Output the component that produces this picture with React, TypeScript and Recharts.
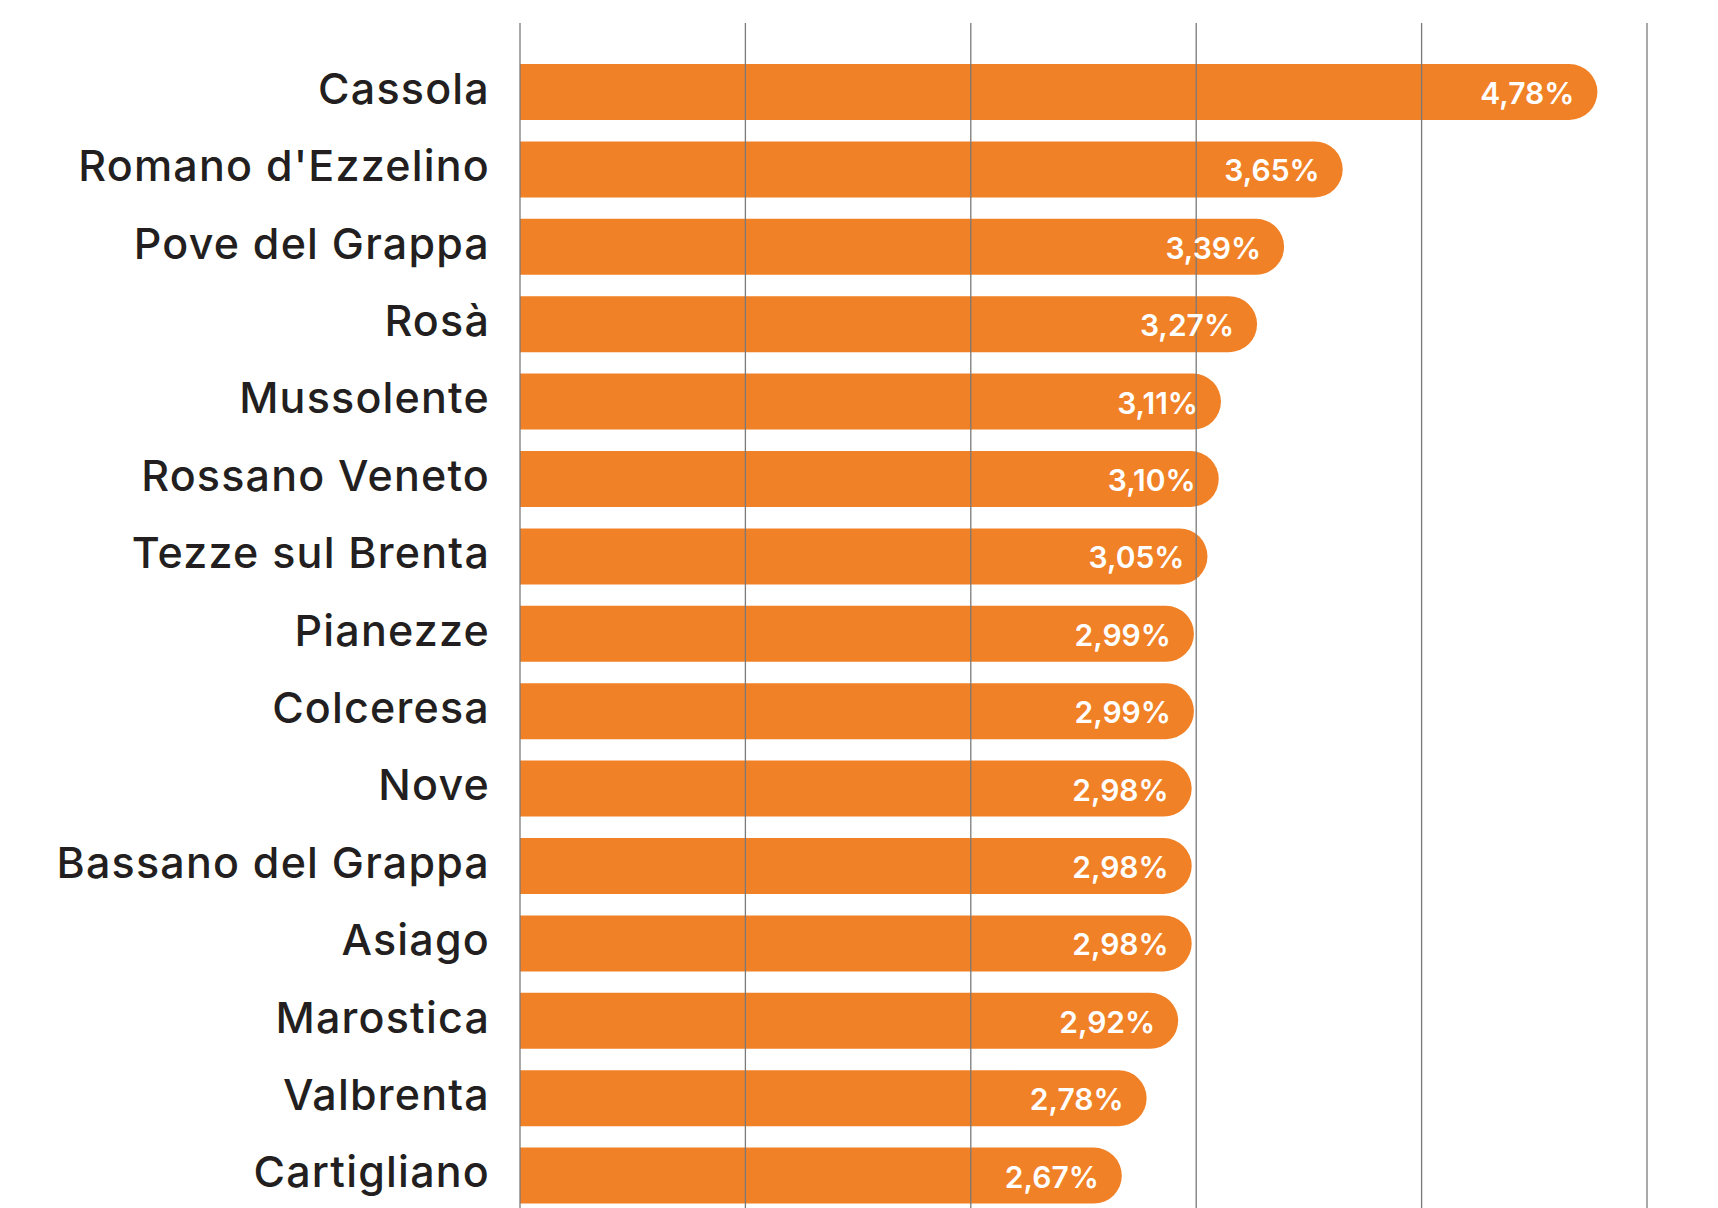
import React from 'react'
import { BarChart, Bar, XAxis, YAxis, ReferenceLine, LabelList } from 'recharts'

// Municipalities, top to bottom
const comuni = [
  'Cassola',
  "Romano d'Ezzelino",
  'Pove del Grappa',
  'Rosà',
  'Mussolente',
  'Rossano Veneto',
  'Tezze sul Brenta',
  'Pianezze',
  'Colceresa',
  'Nove',
  'Bassano del Grappa',
  'Asiago',
  'Marostica',
  'Valbrenta',
  'Cartigliano',
]

const percentuali = [4.78, 3.65, 3.39, 3.27, 3.11, 3.1, 3.05, 2.99, 2.99, 2.98, 2.98, 2.98, 2.92, 2.78, 2.67]

const gridTicks = [0, 1, 2, 3, 4, 5]

const ORANGE = '#F18126'
const TEXT = '#231F20'
const GRID = '#7A7A7A'
const FONT = 'Inter, "Open Sans", sans-serif'

const data = comuni.map((name, i) => ({ name, value: percentuali[i] }))

function fmt(v: number): string {
  return v.toFixed(2).replace('.', ',') + '%'
}

function NameTick(props: any) {
  const { x, y, payload } = props
  return (
    <text
      x={x}
      y={y}
      dy={-4}
      textAnchor="end"
      dominantBaseline="central"
      fill={TEXT}
      fontSize={43}
      fontWeight={500}
      letterSpacing={1.2}
      fontFamily={FONT}
    >
      {payload.value}
    </text>
  )
}

function ValueLabel(props: any) {
  const { x, y, width, height, value } = props
  return (
    <text
      x={x + width - 23}
      y={y + height / 2}
      dy={1}
      textAnchor="end"
      dominantBaseline="central"
      fill="#FFFFFF"
      fontSize={30}
      fontWeight={600}
      fontFamily={FONT}
    >
      {fmt(value)}
    </text>
  )
}

export default function App() {
  return (
    <div
      style={{
        position: 'absolute',
        left: 0,
        top: 0,
        width: 1718,
        height: 1208,
        overflow: 'hidden',
        background: '#fff',
      }}
    >
      <BarChart
        width={1718}
        height={1214}
        data={data}
        layout="vertical"
        margin={{ top: 23, right: 71, bottom: 0, left: 0 }}
      >
        <XAxis type="number" domain={[0, 5]} ticks={gridTicks} hide />
        <YAxis
          type="category"
          dataKey="name"
          width={520}
          axisLine={false}
          tickLine={false}
          tickSize={0}
          tickMargin={30}
          tick={<NameTick />}
          padding={{ top: 30, bottom: 0 }}
          interval={0}
        />
        <Bar dataKey="value" fill={ORANGE} barSize={56} radius={[0, 28, 28, 0]} isAnimationActive={false}>
          <LabelList dataKey="value" content={<ValueLabel />} />
        </Bar>
        {gridTicks.map((t) => (
          <ReferenceLine key={t} x={t} stroke={GRID} strokeWidth={1.3} />
        ))}
      </BarChart>
    </div>
  )
}
